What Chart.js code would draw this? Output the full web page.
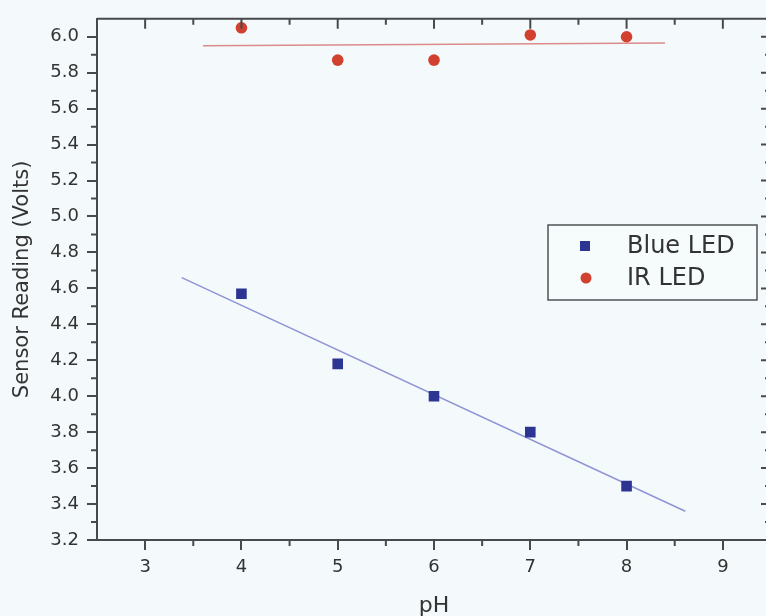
<!DOCTYPE html>
<html><head><meta charset="utf-8">
<script src="https://cdn.jsdelivr.net/npm/chart.js@4"></script>
<style>
html,body{margin:0;padding:0;background:#f4fafb;overflow:hidden;width:766px;height:616px}
#wrap{position:absolute;left:0;top:0;width:780px;height:616px}
</style></head>
<body><div id="wrap"><canvas id="c" width="780" height="616"></canvas></div>
<script>
const phValues = [4, 5, 6, 7, 8];
const blueLED = [4.57, 4.18, 4.00, 3.80, 3.50];
const irLED = [6.05, 5.87, 5.87, 6.01, 6.00];
const blueFitX = [3.38, 8.61];
const blueFitY = [4.66, 3.36];
const irFitX = [3.6, 8.4];
const irFitY = [5.95, 5.965];
const xTicks = [3, 4, 5, 6, 7, 8, 9];
const xMinorTicks = [3.5, 4.5, 5.5, 6.5, 7.5, 8.5];
const yTicks = [3.2, 3.4, 3.6, 3.8, 4.0, 4.2, 4.4, 4.6, 4.8, 5.0, 5.2, 5.4, 5.6, 5.8, 6.0];
const yMinorTicks = [3.3, 3.5, 3.7, 3.9, 4.1, 4.3, 4.5, 4.7, 4.9, 5.1, 5.3, 5.5, 5.7, 5.9];
const seriesNames = ['Blue LED', 'IR LED'];

const AXIS = '#474a4c';
const BLUE = '#2c3591';
const RED = '#d2402f';
const TEXT = '#333333';
const FONT = 'DejaVu Sans';

const pts = (xs, ys) => xs.map((x, i) => ({x: x, y: ys[i]}));

const framePlugin = {
  id: 'frame',
  afterDatasetsDraw(chart) {
    const {ctx, chartArea: a, scales: {x, y}} = chart;
    ctx.save();
    ctx.strokeStyle = AXIS;
    ctx.lineWidth = 2;
    ctx.beginPath();
    ctx.moveTo(a.left, a.top); ctx.lineTo(a.right, a.top);
    ctx.moveTo(a.right, a.top); ctx.lineTo(a.right, a.bottom);
    xTicks.forEach(v => { const p = x.getPixelForValue(v); ctx.moveTo(p, a.top); ctx.lineTo(p, a.top + 10); });
    xMinorTicks.forEach(v => { const p = x.getPixelForValue(v); ctx.moveTo(p, a.top); ctx.lineTo(p, a.top + 6); });
    xMinorTicks.forEach(v => { const p = x.getPixelForValue(v); ctx.moveTo(p, a.bottom); ctx.lineTo(p, a.bottom + 6); });
    yTicks.forEach(v => { const p = y.getPixelForValue(v); ctx.moveTo(a.right, p); ctx.lineTo(a.right - 10, p); });
    yMinorTicks.forEach(v => { const p = y.getPixelForValue(v); ctx.moveTo(a.right, p); ctx.lineTo(a.right - 6, p); });
    yMinorTicks.forEach(v => { const p = y.getPixelForValue(v); ctx.moveTo(a.left, p); ctx.lineTo(a.left - 6, p); });
    ctx.stroke();

    // legend
    const lx = 548, ly = 225, lw = 209, lh = 75;
    ctx.fillStyle = '#f6fbfc';
    ctx.fillRect(lx, ly, lw, lh);
    ctx.lineWidth = 1.5;
    ctx.strokeStyle = '#505356';
    ctx.strokeRect(lx, ly, lw, lh);
    ctx.fillStyle = BLUE;
    ctx.fillRect(580, 241, 10, 10);
    ctx.fillStyle = RED;
    ctx.beginPath(); ctx.arc(586, 278, 5.5, 0, Math.PI * 2); ctx.fill();
    ctx.fillStyle = TEXT;
    ctx.font = '24px "' + FONT + '"';
    ctx.textBaseline = 'middle';
    ctx.textAlign = 'left';
    ctx.fillText(seriesNames[0], 627, 247);
    ctx.fillText(seriesNames[1], 627, 279);
    ctx.restore();
  }
};

new Chart(document.getElementById('c'), {
  type: 'scatter',
  data: {
    datasets: [
      {label: seriesNames[0], data: pts(phValues, blueLED), pointStyle: 'rect', pointRadius: 7.5,
       backgroundColor: BLUE, borderColor: BLUE, borderWidth: 0},
      {label: seriesNames[1], data: pts(phValues, irLED), pointStyle: 'circle', pointRadius: 5.8,
       backgroundColor: RED, borderColor: RED, borderWidth: 0},
      {label: 'blue fit', data: pts(blueFitX, blueFitY), showLine: true, pointRadius: 0,
       borderColor: '#8e93d6', borderWidth: 1.5},
      {label: 'ir fit', data: pts(irFitX, irFitY), showLine: true, pointRadius: 0,
       borderColor: '#dc8a8a', borderWidth: 1.5}
    ]
  },
  options: {
    responsive: false,
    devicePixelRatio: 1,
    animation: false,
    layout: {padding: {top: 17, right: 9, left: 0, bottom: 0}},
    plugins: {legend: {display: false}, tooltip: {enabled: false}},
    scales: {
      x: {
        type: 'linear', min: 2.5, max: 9.5,
        afterBuildTicks: s => { s.ticks = xTicks.map(v => ({value: v})); },
        afterFit: s => { s.height = 76; },
        grid: {drawOnChartArea: false, drawTicks: true, tickLength: 10, color: AXIS, lineWidth: 2},
        border: {display: true, color: AXIS, width: 2},
        ticks: {color: TEXT, font: {family: FONT, size: 18}, padding: 7, maxRotation: 0,
                callback: v => String(v)},
        title: {display: true, text: 'pH', color: TEXT, font: {family: FONT, size: 22, lineHeight: 1},
                padding: {top: 0, bottom: -1}}
      },
      y: {
        type: 'linear', min: 3.2, max: 6.1,
        afterBuildTicks: s => { s.ticks = yTicks.map(v => ({value: v})); },
        afterFit: s => { s.width = 97; },
        grid: {drawOnChartArea: false, drawTicks: true, tickLength: 10, color: AXIS, lineWidth: 2},
        border: {display: true, color: AXIS, width: 2},
        ticks: {color: TEXT, font: {family: FONT, size: 18}, padding: 8,
                callback: v => Number(v).toFixed(1)},
        title: {display: true, text: 'Sensor Reading (Volts)', color: TEXT,
                font: {family: FONT, size: 21, lineHeight: 1.2}, padding: {top: 10, bottom: 0}}
      }
    }
  },
  plugins: [framePlugin]
});
</script>
</body></html>
